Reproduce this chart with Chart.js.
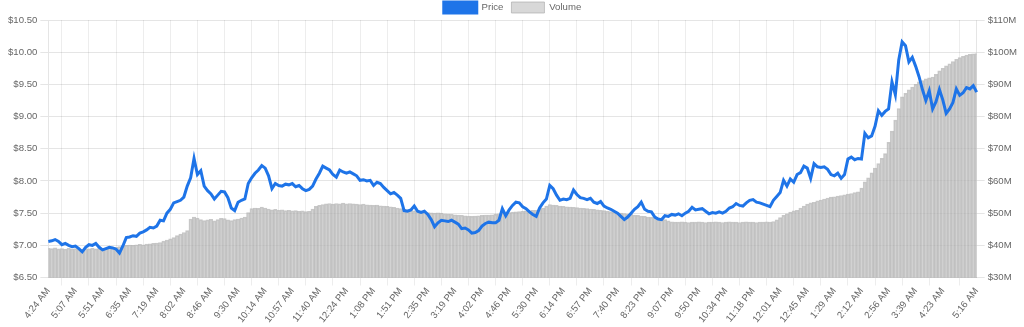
<!DOCTYPE html>
<html>
<head>
<meta charset="utf-8">
<script src="https://cdn.jsdelivr.net/npm/chart.js@4/dist/chart.umd.min.js"></script>
<style>
    html, body { margin: 0; padding: 0; background: #fff; }
    #wrap { width: 1024px; height: 327px; }
</style>
</head>
<body>
<div id="wrap"><canvas id="canvas1"></canvas></div>
<script>
// shown time ticks, one every 8 points, last one on the final point
let tickLabels = [
    '4:24 AM', '5:07 AM', '5:51 AM', '6:35 AM', '7:19 AM', '8:02 AM', '8:46 AM',
    '9:30 AM', '10:14 AM', '10:57 AM', '11:40 AM', '12:24 PM', '1:08 PM', '1:51 PM',
    '2:35 PM', '3:19 PM', '4:02 PM', '4:46 PM', '5:30 PM', '6:14 PM', '6:57 PM',
    '7:40 PM', '8:23 PM', '9:07 PM', '9:50 PM', '10:34 PM', '11:18 PM', '12:01 AM',
    '12:45 AM', '1:29 AM', '2:12 AM', '2:56 AM', '3:39 AM', '4:23 AM', '5:16 AM'
];

// price in $
let price = [
    7.06, 7.07, 7.09, 7.06, 7.01, 7.03, 7.00, 6.98,
    6.99, 6.95, 6.90, 6.97, 7.01, 7.00, 7.03, 6.97,
    6.93, 6.95, 6.97, 6.96, 6.94, 6.88, 6.99, 7.12,
    7.13, 7.15, 7.14, 7.19, 7.21, 7.24, 7.28, 7.27,
    7.30, 7.39, 7.38, 7.50, 7.56, 7.66, 7.68, 7.70,
    7.75, 7.92, 8.05, 8.35, 8.10, 8.16, 7.92, 7.85,
    7.80, 7.72, 7.78, 7.84, 7.83, 7.74, 7.58, 7.54,
    7.67, 7.70, 7.72, 7.96, 8.05, 8.12, 8.17, 8.24,
    8.20, 8.08, 7.88, 7.96, 7.93, 7.92, 7.95, 7.94,
    7.96, 7.91, 7.93, 7.88, 7.85, 7.87, 7.92, 8.03,
    8.12, 8.23, 8.20, 8.17, 8.10, 8.06, 8.17, 8.14,
    8.12, 8.14, 8.11, 8.08, 8.01, 8.02, 8.00, 8.01,
    7.93, 7.98, 7.96, 7.90, 7.85, 7.80, 7.82, 7.78,
    7.73, 7.54, 7.53, 7.55, 7.61, 7.53, 7.51, 7.53,
    7.48, 7.40, 7.29, 7.35, 7.39, 7.38, 7.37, 7.39,
    7.36, 7.33, 7.26, 7.27, 7.24, 7.19, 7.20, 7.23,
    7.30, 7.34, 7.36, 7.35, 7.35, 7.39, 7.57, 7.46,
    7.55, 7.62, 7.67, 7.66, 7.60, 7.57, 7.52, 7.48,
    7.45, 7.58, 7.66, 7.72, 7.93, 7.88, 7.78, 7.70,
    7.72, 7.71, 7.73, 7.86, 7.79, 7.74, 7.73, 7.71,
    7.73, 7.67, 7.65, 7.68, 7.61, 7.58, 7.56, 7.53,
    7.50, 7.45, 7.40, 7.44, 7.50, 7.56, 7.60, 7.67,
    7.56, 7.53, 7.52, 7.44, 7.41, 7.40, 7.46, 7.45,
    7.48, 7.47, 7.49, 7.46, 7.50, 7.53, 7.59, 7.55,
    7.56, 7.57, 7.53, 7.49, 7.51, 7.50, 7.52, 7.50,
    7.53, 7.58, 7.60, 7.65, 7.62, 7.61, 7.66, 7.70,
    7.71, 7.67, 7.66, 7.64, 7.62, 7.60, 7.70, 7.76,
    7.82, 8.01, 7.92, 8.03, 7.98, 8.10, 8.13, 8.23,
    8.20, 8.04, 8.27, 8.22, 8.21, 8.22, 8.18, 8.10,
    8.08, 8.12, 8.04, 8.10, 8.34, 8.37, 8.33, 8.35,
    8.34, 8.74, 8.67, 8.70, 8.85, 9.09, 9.02, 9.08,
    9.12, 9.54, 9.34, 9.88, 10.16, 10.10, 9.85, 9.92,
    9.78, 9.62, 9.42, 9.25, 9.40, 9.12, 9.23, 9.42,
    9.26, 9.05, 9.12, 9.22, 9.43, 9.33, 9.37, 9.45,
    9.43, 9.48, 9.38
];

// volume in $M
let volume = [
    39.1, 39.0, 39.2, 38.9, 39.0, 38.8, 39.1, 38.9,
    39.0, 38.9, 38.8, 39.0, 38.9, 39.1, 38.9, 39.0,
    39.1, 39.0, 39.2, 39.3, 39.4, 39.6, 39.8, 40.0,
    40.1, 40.0, 40.2, 40.3, 40.2, 40.4, 40.5, 40.6,
    40.7, 40.9, 41.3, 41.6, 42.0, 42.4, 43.0, 43.5,
    44.0, 44.6, 48.2, 48.8, 48.5, 48.0, 47.7, 47.9,
    48.1, 47.6, 48.0, 48.4, 48.3, 47.9, 47.7, 48.0,
    48.2, 48.5, 48.8, 50.2, 51.4, 51.6, 51.5, 51.9,
    51.6, 51.3, 51.0, 51.2, 50.9, 51.0, 50.8, 50.9,
    50.7, 50.8, 50.6, 50.7, 50.5, 50.6, 51.3, 52.1,
    52.4, 52.7, 52.9, 53.0, 52.8, 53.0, 52.9, 53.1,
    52.9, 53.0, 52.9, 52.8, 52.7, 52.8, 52.6, 52.5,
    52.4, 52.5, 52.3, 52.2, 52.1, 52.0, 51.8, 51.6,
    51.4, 51.2, 51.0, 50.9, 50.7, 50.5, 50.3, 50.2,
    50.2, 50.1, 50.0, 50.1, 50.0, 49.8, 49.7, 49.6,
    49.5, 49.4, 49.3, 49.2, 49.1, 49.0, 49.1, 49.2,
    49.3, 49.4, 49.4, 49.5, 49.6, 49.8, 50.0, 50.1,
    50.2, 50.3, 50.4, 50.5, 50.6, 50.7, 50.8, 50.9,
    50.9, 51.2, 51.6, 52.2, 52.7, 52.5, 52.4, 52.2,
    52.1, 52.0, 51.9, 51.8, 51.7, 51.6, 51.5, 51.4,
    51.3, 51.2, 51.0, 50.9, 50.8, 50.6, 50.5, 50.3,
    50.2, 50.0, 49.9, 49.7, 49.6, 49.4, 49.3, 49.1,
    49.0, 48.8, 48.7, 48.5, 48.3, 48.1, 48.0, 47.6,
    47.3, 47.2, 47.2, 47.3, 47.2, 47.1, 47.2, 47.2,
    47.3, 47.2, 47.1, 47.2, 47.2, 47.3, 47.2, 47.1,
    47.2, 47.3, 47.2, 47.2, 47.1, 47.2, 47.3, 47.2,
    47.2, 47.1, 47.2, 47.2, 47.3, 47.2, 47.4, 47.9,
    48.6, 49.3, 49.8, 50.3, 50.7, 50.9, 51.6, 52.2,
    52.8, 53.2, 53.4, 53.8, 54.1, 54.4, 54.7, 55.0,
    55.1, 55.3, 55.5, 55.7, 55.9, 56.1, 56.4, 56.6,
    57.8, 59.7, 61.0, 62.5, 64.0, 65.4, 67.0, 68.5,
    72.0, 75.5, 78.9, 82.5, 86.1, 87.2, 88.3, 89.2,
    90.0, 90.8, 91.2, 91.7, 92.0, 92.3, 93.1, 94.2,
    95.0, 95.8, 96.4, 97.1, 97.8, 98.3, 98.7, 99.1,
    99.3, 99.5, 99.6
];

// one category per point, only every 8th (and the last) gets a time
let labels = price.map(function (p, i) {
    if (i === price.length - 1) return tickLabels[tickLabels.length - 1];
    if (i % 8 === 0 && i / 8 < tickLabels.length - 1) return tickLabels[i / 8];
    return '';
});

Chart.defaults.font.family = "'Liberation Sans', Arial, sans-serif";
Chart.defaults.font.size = 9.6;
Chart.defaults.color = '#666';

let blue = 'rgb(30, 116, 232)';

let config = {
    type: 'bar',
    data: {
        labels: labels,
        datasets: [
            {
                type: 'line',
                label: 'Price',
                data: price,
                yAxisID: 'y',
                borderColor: blue,
                backgroundColor: blue,
                borderWidth: 3,
                pointRadius: 0,
                tension: 0,
                order: 0
            },
            {
                type: 'bar',
                label: 'Volume',
                data: volume,
                yAxisID: 'y1',
                backgroundColor: 'rgba(195, 195, 195, 0.65)',
                borderColor: 'rgba(170, 170, 170, 0.65)',
                borderWidth: 1,
                barPercentage: 1,
                categoryPercentage: 1,
                order: 1
            }
        ]
    },
    options: {
        responsive: true,
        maintainAspectRatio: false,
        animation: false,
        layout: {
            padding: { left: 5, right: 4, top: -6, bottom: 2 }
        },
        plugins: {
            legend: {
                position: 'top',
                maxHeight: 26,
                labels: {
                    boxWidth: 33,
                    boxHeight: 11,
                    padding: 8
                }
            },
            tooltip: { enabled: false }
        },
        scales: {
            x: {
                offset: false,
                grid: { color: 'rgba(0,0,0,0.07)', tickLength: 8 },
                ticks: {
                    autoSkip: false,
                    minRotation: 52,
                    maxRotation: 52,
                    padding: 0,
                    callback: function (value, index) {
                        return labels[index] ? labels[index] : null;
                    }
                }
            },
            y: {
                position: 'left',
                min: 6.5,
                max: 10.5,
                grid: { color: 'rgba(0,0,0,0.1)', tickLength: 8 },
                ticks: {
                    stepSize: 0.5,
                    callback: function (value) {
                        return '$' + value.toFixed(2);
                    }
                }
            },
            y1: {
                position: 'right',
                min: 30,
                max: 110,
                grid: { color: 'rgba(0,0,0,0.1)', tickLength: 8, drawOnChartArea: false },
                ticks: {
                    stepSize: 10,
                    callback: function (value) {
                        return '$' + value + 'M';
                    }
                }
            }
        }
    }
};

let myChart = new Chart(
    document.getElementById('canvas1'),
    config
);
</script>
</body>
</html>
